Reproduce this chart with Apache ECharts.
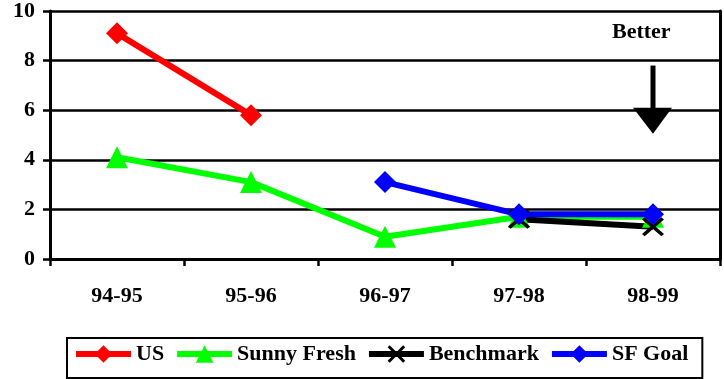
<!DOCTYPE html>
<html>
<head>
<meta charset="utf-8">
<script src="https://cdn.jsdelivr.net/npm/echarts@6/dist/echarts.min.js"></script>
<style>
html,body{margin:0;padding:0;background:#fff;}
#chart{width:724px;height:379px;}
</style>
</head>
<body>
<div id="chart"></div>
<script>
const categories = ['94-95', '95-96', '96-97', '97-98', '98-99'];
const usValues = [9.1, 5.8, null, null, null];
const sunnyFreshValues = [4.1, 3.1, 0.9, 1.7, 1.7];
const benchmarkValues = [null, null, null, 1.6, 1.3];
const sfGoalValues = [null, null, 3.1, 1.8, 1.8];
const yTicks = [0, 2, 4, 6, 8, 10];
const seriesNames = ['US', 'Sunny Fresh', 'Benchmark', 'SF Goal'];

const FONT = "'Liberation Serif', 'Times New Roman', serif";
const crossPath = 'path://M0,1.2L1.2,0L5,3.8L8.8,0L10,1.2L6.2,5L10,8.8L8.8,10L5,6.2L1.2,10L0,8.8L3.8,5Z';

const chart = echarts.init(document.getElementById('chart'));

function lineSeries(name, data, color, symbol, size) {
  return {
    name: name,
    type: 'line',
    data: data,
    symbol: symbol,
    symbolSize: size,
    showAllSymbol: true,
    connectNulls: false,
    lineStyle: { color: color, width: 6 },
    itemStyle: { color: color },
    animation: false
  };
}

chart.setOption({
  backgroundColor: '#fff',
  animation: false,
  grid: { left: 50, right: 4, top: 10, bottom: 120 },
  xAxis: {
    type: 'category',
    data: categories,
    boundaryGap: true,
    axisLine: { lineStyle: { color: '#000', width: 3 } },
    axisTick: { show: true, interval: 0, length: 7, lineStyle: { color: '#000', width: 2.5 } },
    axisLabel: { color: '#000', fontFamily: FONT, fontWeight: 'bold', fontSize: 22, margin: 26 }
  },
  yAxis: [{
    type: 'value',
    min: yTicks[0],
    max: yTicks[yTicks.length - 1],
    interval: 2,
    axisLine: { show: true, lineStyle: { color: '#000', width: 3 } },
    axisTick: { show: true, length: 7, lineStyle: { color: '#000', width: 2.5 } },
    axisLabel: { color: '#000', fontFamily: FONT, fontWeight: 'bold', fontSize: 22, margin: 15 },
    splitLine: { show: true, lineStyle: { color: '#000', width: 2.5 } }
  }, {
    type: 'value',
    position: 'right',
    min: yTicks[0],
    max: yTicks[yTicks.length - 1],
    interval: 2,
    axisLine: { show: true, lineStyle: { color: '#000', width: 3 } },
    axisTick: { show: false },
    axisLabel: { show: false },
    splitLine: { show: false }
  }],
  legend: {
    data: seriesNames,
    left: 67,
    top: 338,
    padding: [5, 14, 13, 6],
    itemGap: 10,
    itemWidth: 55,
    itemHeight: 22,
    borderColor: '#000',
    borderWidth: 2,
    lineStyle: { width: 6 },
    textStyle: { color: '#000', fontFamily: FONT, fontWeight: 'bold', fontSize: 22 },
    selectedMode: false
  },
  series: [
    lineSeries(seriesNames[0], usValues, '#ff0000', 'diamond', 22),
    lineSeries(seriesNames[1], sunnyFreshValues, '#00ff00', 'triangle', 22),
    lineSeries(seriesNames[2], benchmarkValues, '#000000', crossPath, [22, 19]),
    lineSeries(seriesNames[3], sfGoalValues, '#0000ff', 'diamond', 22)
  ]
});

// "Better" annotation placed from axis coordinates
const ax = chart.convertToPixel({ xAxisIndex: 0, yAxisIndex: 0 }, [categories[4], 7.8]);
const headTop = chart.convertToPixel({ xAxisIndex: 0, yAxisIndex: 0 }, [categories[4], 6.1])[1];
const headBottom = chart.convertToPixel({ xAxisIndex: 0, yAxisIndex: 0 }, [categories[4], 5.05])[1];
const textY = chart.convertToPixel({ xAxisIndex: 0, yAxisIndex: 0 }, [categories[4], 8.6])[1];
const cx = ax[0];
chart.setOption({
  graphic: [
    { type: 'text', left: cx - 41, top: textY - 24, z: 100,
      style: { text: 'Better', fill: '#000', font: "bold 22px " + FONT } },
    { type: 'line', z: 100, shape: { x1: cx, y1: ax[1], x2: cx, y2: headTop + 2 },
      style: { stroke: '#000', lineWidth: 5 } },
    { type: 'polygon', z: 100, shape: { points: [[cx - 20, headTop], [cx + 19, headTop], [cx, headBottom]] },
      style: { fill: '#000' } }
  ]
});
</script>
</body>
</html>
